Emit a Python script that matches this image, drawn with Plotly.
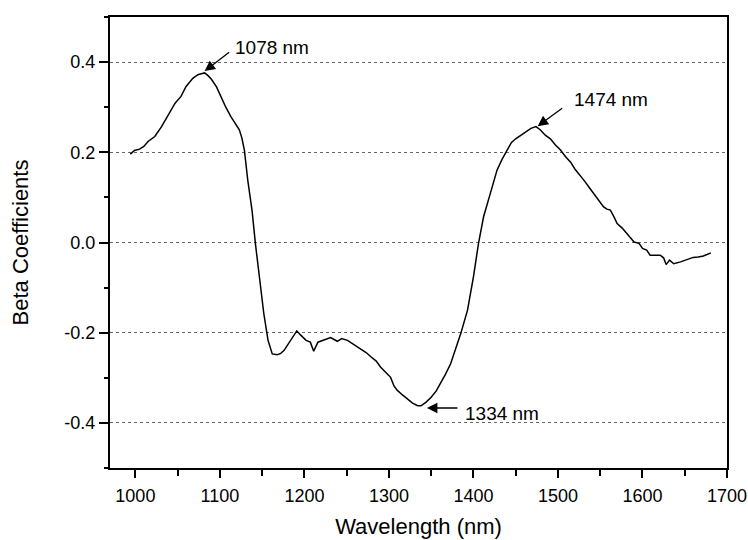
import plotly.graph_objects as go

wavelength = [994, 999, 1005, 1010, 1015, 1023, 1031, 1039, 1047, 1054, 1060, 1068, 1074, 1078, 1082, 1086,
              1090, 1096, 1101, 1107, 1113, 1118, 1123, 1126, 1129, 1133, 1138, 1142, 1147, 1152, 1157, 1162,
              1168, 1172, 1176, 1184, 1191, 1196, 1202, 1207, 1211, 1216, 1224, 1231, 1239, 1244, 1251, 1258,
              1267, 1273, 1279, 1285, 1290, 1296, 1302, 1306, 1310, 1316, 1322, 1328, 1334, 1338, 1344, 1350,
              1356, 1361, 1367, 1373, 1379, 1385, 1393, 1400, 1406, 1412, 1420, 1428, 1434, 1440, 1445, 1450,
              1456, 1462, 1468, 1474, 1479, 1485, 1491, 1497, 1503, 1509, 1515, 1520, 1526, 1532, 1537, 1542,
              1548, 1554, 1558, 1562, 1566, 1570, 1576, 1582, 1586, 1590, 1596, 1600, 1605, 1609, 1615, 1621,
              1625, 1628, 1632, 1637, 1645, 1652, 1660, 1666, 1672, 1681]
beta = [0.196, 0.204, 0.207, 0.213, 0.224, 0.235, 0.257, 0.283, 0.309, 0.324, 0.346, 0.364, 0.372, 0.374, 0.376, 0.370,
        0.362, 0.345, 0.324, 0.300, 0.279, 0.265, 0.250, 0.232, 0.205, 0.138, 0.072, -0.002, -0.076, -0.158, -0.217, -0.247,
        -0.249, -0.246, -0.239, -0.217, -0.196, -0.206, -0.217, -0.221, -0.241, -0.221, -0.216, -0.211, -0.219, -0.213, -0.217, -0.226,
        -0.236, -0.244, -0.254, -0.263, -0.276, -0.288, -0.299, -0.318, -0.328, -0.338, -0.347, -0.356, -0.362, -0.362, -0.354, -0.343,
        -0.329, -0.313, -0.292, -0.269, -0.236, -0.202, -0.150, -0.076, -0.002, 0.057, 0.109, 0.161, 0.185, 0.205, 0.222, 0.230,
        0.238, 0.245, 0.253, 0.257, 0.250, 0.238, 0.230, 0.216, 0.205, 0.190, 0.178, 0.163, 0.150, 0.135, 0.122, 0.109,
        0.094, 0.079, 0.074, 0.072, 0.058, 0.042, 0.032, 0.020, 0.010, 0.001, -0.002, -0.013, -0.017, -0.028, -0.028, -0.028,
        -0.034, -0.049, -0.039, -0.047, -0.043, -0.039, -0.033, -0.032, -0.030, -0.023]

# peak annotations: label text, arrow head (data), label anchor (data)
peak_labels = ["1078 nm", "1474 nm", "1334 nm"]
arrow_x = [1082, 1476, 1345]
arrow_y = [0.380, 0.258, -0.367]
text_x = [1116, 1517, 1388]
text_y = [0.433, 0.317, -0.379]

x_ticks = [1000, 1100, 1200, 1300, 1400, 1500, 1600, 1700]
y_ticks = [-0.4, -0.2, 0.0, 0.2, 0.4]
y_tick_text = ["-0.4", "-0.2", "0.0", "0.2", "0.4"]

FONT = "Liberation Sans, Arial, sans-serif"

fig = go.Figure()
fig.add_trace(go.Scatter(x=wavelength, y=beta, mode="lines",
                         line=dict(color="black", width=1.5), showlegend=False))

arrow_offsets = [(26, -20), (26, -19), (32, 0)]
for t, hx, hy, tx, ty, (ax, ay) in zip(peak_labels, arrow_x, arrow_y, text_x, text_y, arrow_offsets):
    fig.add_annotation(x=hx, y=hy, xref="x", yref="y", text="", showarrow=True,
                       ax=ax, ay=ay, arrowhead=2, arrowsize=1.6, arrowwidth=1.3,
                       arrowcolor="black", standoff=0)
    fig.add_annotation(x=tx, y=ty, xref="x", yref="y", text=t, showarrow=False,
                       xanchor="left", yanchor="middle",
                       font=dict(family=FONT, size=19, color="black"))

fig.update_layout(
    width=748, height=540,
    margin=dict(l=110, r=21, t=17, b=72),
    paper_bgcolor="white", plot_bgcolor="white",
    font=dict(family=FONT, color="black"),
    xaxis=dict(range=[970, 1700], tickvals=x_ticks, ticks="outside", ticklen=8, tickwidth=1.5,
               tickcolor="black", showline=True, linecolor="black", linewidth=2, mirror=True,
               showgrid=False, zeroline=False, tickfont=dict(size=18, family=FONT), automargin=False,
               ticklabelstandoff=2,
               minor=dict(dtick=50, tick0=1000, ticks="outside", ticklen=6, tickwidth=1.5, tickcolor="black"),
               title=dict(text="Wavelength (nm)", font=dict(size=22, family=FONT), standoff=14)),
    yaxis=dict(range=[-0.5, 0.5], tickvals=y_ticks, ticktext=y_tick_text, ticks="outside", ticklen=9,
               tickwidth=1.5, tickcolor="black", showline=True, linecolor="black", linewidth=2, mirror=True,
               showgrid=True, gridcolor="#666666", gridwidth=1, griddash="dot", zeroline=False,
               tickfont=dict(size=18, family=FONT), automargin=False,
               minor=dict(dtick=0.1, tick0=0.1, ticks="outside", ticklen=4, tickwidth=1.5, tickcolor="black"),
               title=dict(text="Beta Coefficients", font=dict(size=22, family=FONT), standoff=30)),
)

fig.write_html("out.html")
